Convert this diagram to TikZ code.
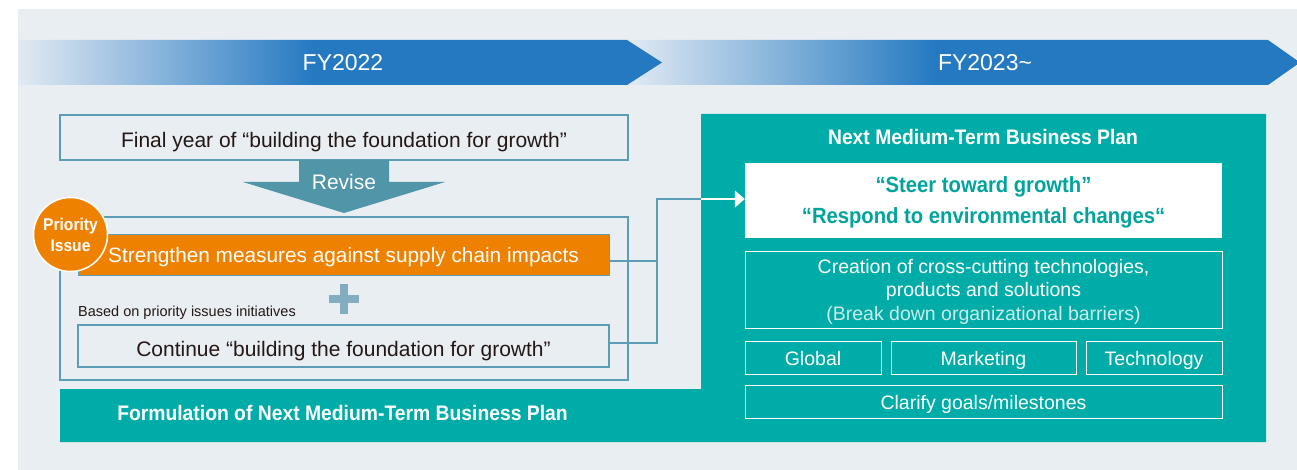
\documentclass[tikz,border=0pt]{standalone}
\usepackage{fontspec}
\setmainfont{Liberation Sans}
\newfontfamily\cnsans{Liberation Sans}[FakeStretch=0.92]
\usetikzlibrary{arrows.meta}

\definecolor{bgpanel}{HTML}{E9EEF3}
\definecolor{ribbonblue}{HTML}{2479C1}
\definecolor{ribbonfade}{HTML}{E2EAF3}
\definecolor{planteal}{HTML}{00ACA7}
\definecolor{steerteal}{HTML}{00A49D}
\definecolor{boxline}{HTML}{5C9DB5}
\definecolor{revisecol}{HTML}{5095A8}
\definecolor{prioorange}{HTML}{EE8200}
\definecolor{pluscol}{HTML}{82ADC1}
\definecolor{darktext}{HTML}{231815}
\definecolor{palecyan}{HTML}{CDEBEA}

\pgfdeclarehorizontalshading{ribbonshade}{100bp}{color(0bp)=(ribbonfade); color(25bp)=(ribbonfade); color(48bp)=(ribbonblue); color(100bp)=(ribbonblue)}

\tikzset{
  outline/.style={draw=boxline,line width=1.3pt},
  plainbox/.style={outline,text=darktext,font=\fontsize{21}{25}\selectfont,minimum width=531pt,minimum height=42pt,inner sep=0pt,text height=20pt,text depth=0pt},
  tealbox/.style={draw=white,line width=1pt,text=white,font=\fontsize{19.5}{23.5}\selectfont,minimum height=33pt,inner sep=0pt,align=center,text height=16pt,text depth=0pt},
  boldcn/.style 2 args={font=\cnsans\bfseries\fontsize{#1}{#2}\selectfont},
  yearlabel/.style={text=white,font=\fontsize{23}{27}\selectfont},
  link/.style={draw=boxline,line width=1.3pt}
}

\begin{document}
\begin{tikzpicture}[x=1pt,y=-1pt]
\useasboundingbox (0,0) rectangle (1297,470);
\fill[bgpanel] (18,9) rectangle (1297,470);

\shade[shading=ribbonshade] (627,40) -- (1268,40) -- (1300,62.5) -- (1268,85) -- (627,85) -- cycle;
\shade[shading=ribbonshade] (18,40) -- (627,40) -- (662,62.5) -- (627,85) -- (18,85) -- cycle;
\node[yearlabel] (fy22) at (343,62.5) {FY2022};
\node[yearlabel] (fy23) at (985,62.5) {FY2023\textasciitilde};

\fill[planteal] (60,389) -- (701,389) -- (701,114) -- (1266,114) -- (1266,442) -- (60,442) -- cycle;

\node[plainbox,minimum width=568pt,minimum height=45pt] (final) at (344,137.5) {Final year of “building the foundation for growth”};
\fill[revisecol] (299,160) -- (389,160) -- (389,182) -- (445,182) -- (344,213) -- (243,182) -- (299,182) -- cycle;
\node[text=white,font=\fontsize{21}{25}\selectfont] (revise) at (344,182) {Revise};

\node[outline,minimum width=568pt,minimum height=163pt] (group) at (344,298.5) {};
\node[plainbox,fill=prioorange,text=white,line width=0.8pt,minimum height=41pt,text height=16pt,text depth=2pt,font=\fontsize{20.8}{25}\selectfont] (supply) at (343.5,255) {Strengthen measures against supply chain impacts};
\node[circle,fill=prioorange,draw=white,line width=1.5pt,minimum size=74pt,inner sep=0pt,text=white,boldcn={17}{21},align=center] (prio) at (70.5,234.5) {Priority\\Issue};

\coordinate (plus) at (343.5,299);
\draw[pluscol,line width=8pt] ([xshift=-15pt]plus) -- ([xshift=15pt]plus) ([yshift=-15pt]plus) -- ([yshift=15pt]plus);
\node[anchor=west,text=darktext,font=\fontsize{14.5}{17}\selectfont,inner sep=0pt] (basis) at (78,313) {Based on priority issues initiatives};
\node[plainbox] (cont) at (343.5,346) {Continue “building the foundation for growth”};

\node[text=white,boldcn={21}{25}] (formul) at (342.5,413) {Formulation of Next Medium-Term Business Plan};
\node[text=white,boldcn={21}{25}] (plan) at (983,137) {Next Medium-Term Business Plan};

\node[fill=white,minimum width=477pt,minimum height=75pt,text=steerteal,boldcn={22}{31},align=center,inner sep=0pt,text height=47pt,text depth=0pt] (steer) at (983.5,200.5) {“Steer toward growth”\\“Respond to environmental changes“};
\node[tealbox,minimum width=477pt,minimum height=77pt,text height=61pt,text depth=0pt] (create) at (983.5,289.5) {Creation of cross-cutting technologies,\\products and solutions\\\textcolor{palecyan}{(Break down organizational barriers)}};
\node[tealbox,minimum width=136pt] (global) at (813,357.5) {Global};
\node[tealbox,minimum width=185pt] (market) at (983.5,357.5) {Marketing};
\node[tealbox,minimum width=136pt] (tech) at (1154,357.5) {Technology};
\node[tealbox,minimum width=477pt] (goals) at (983.5,401.5) {Clarify goals/milestones};

\coordinate (join) at (657,199);
\coordinate (edge) at (701,199);
\draw[link] ([yshift=-6pt]supply.east) -| (join) -- (edge);
\draw[link] ([yshift=3pt]cont.east) -| (join);
\draw[white,line width=1.3pt,-{Triangle[length=10pt,width=17pt]}] (edge) -- (edge -| steer.west);
\end{tikzpicture}
\end{document}
